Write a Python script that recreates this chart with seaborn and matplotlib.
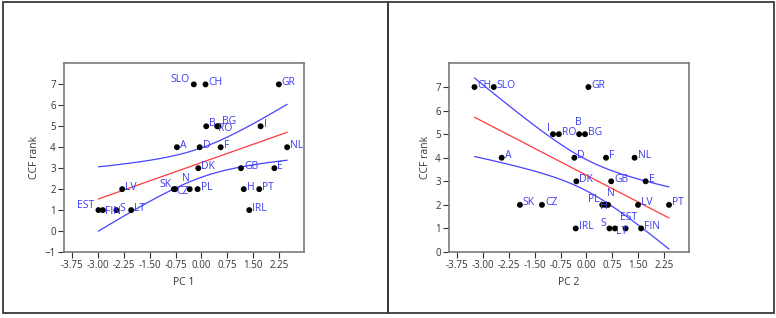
import numpy as np
import pandas as pd
import seaborn as sns
from matplotlib import pyplot as plt
from matplotlib.patches import Rectangle

# Country codes and CCF rank (shared by both panels)
countries = ['SLO', 'CH', 'GR', 'B', 'BG', 'RO', 'I', 'A', 'D', 'F', 'NL', 'DK', 'GB',
             'E', 'SK', 'CZ', 'N', 'PL', 'H', 'PT', 'LV', 'EST', 'FIN', 'S', 'LT', 'IRL']
ccf_rank = [7, 7, 7, 5, 5, 5, 5, 4, 4, 4, 4, 3, 3,
            3, 2, 2, 2, 2, 2, 2, 2, 1, 1, 1, 1, 1]
# principal component scores
pc1 = [-0.22, 0.12, 2.25, 0.14, 0.50, 0.46, 1.72, -0.71, -0.05, 0.56, 2.49, -0.09, 1.15,
       2.12, -0.80, -0.76, -0.34, -0.11, 1.23, 1.68, -2.30, -2.99, -2.86, -2.47, -2.04, 1.39]
pc2 = [-2.69, -3.25, 0.06, -0.21, -0.04, -0.80, -0.97, -2.46, -0.35, 0.57, 1.40, -0.29, 0.72,
       1.72, -1.93, -1.29, 0.63, 0.46, 0.55, 2.40, 1.50, 1.14, 1.59, 0.67, 0.83, -0.31]

x_ticks = [-3.75, -3.00, -2.25, -1.50, -0.75, 0.00, 0.75, 1.50, 2.25]

# label placement (pixels offset, horizontal alignment); default is right of the dot
DEFAULT_OFF = (3, 2, 'left')
offsets_pc1 = {'SLO': (-4, 5, 'right'), 'BG': (3, 5, 'left'), 'RO': (1, -2, 'left'),
               'EST': (-4, 5, 'right'), 'FIN': (2, -1, 'left'), 'SK': (-2, 5, 'right'),
               'CZ': (1, -2, 'left'), 'N': (-4, 11, 'center'), 'B': (3, 3, 'left')}
offsets_pc2 = {'I': (-3, 6, 'right'), 'B': (-1, 12, 'center'), 'PL': (-3, 5, 'right'),
               'N': (3, 11, 'center'), 'H': (-2, -2, 'center'), 'S': (-3, 5, 'right'),
               'LT': (1, -3, 'left'), 'EST': (3, 11, 'center')}

df = pd.DataFrame({'country': countries, 'rank': ccf_rank, 'PC 1': pc1, 'PC 2': pc2})

LABEL_BLUE = '#3a3af5'
LINE_BLUE = '#4444ff'
LINE_RED = '#ff3b3b'
T_CRIT = 2.064  # t(0.975, df=24)

sns.set_theme(style='ticks')
plt.rcParams['font.family'] = ['Open Sans', 'DejaVu Sans']

fig = plt.figure(figsize=(7.76, 3.18), dpi=100)
W, H = 776, 318


def fit_bands(x, y):
    x = np.asarray(x, float)
    y = np.asarray(y, float)
    n = len(x)
    b, a = np.polyfit(x, y, 1)
    resid = y - (a + b * x)
    s = np.sqrt((resid ** 2).sum() / (n - 2))
    sxx = ((x - x.mean()) ** 2).sum()
    xs = np.linspace(x.min(), x.max(), 100)
    yhat = a + b * xs
    half = T_CRIT * s * np.sqrt(1 / n + (xs - x.mean()) ** 2 / sxx)
    return pd.DataFrame({'x': xs, 'fit': yhat, 'lo': yhat - half, 'hi': yhat + half})


def draw_panel(left_px, col, ylim, offsets):
    ax = fig.add_axes([left_px / W, (H - 252) / H, 240 / W, 189 / H])
    bands = fit_bands(df[col], df['rank'])
    sns.lineplot(data=bands, x='x', y='fit', color=LINE_RED, lw=0.9, ax=ax)
    sns.lineplot(data=bands, x='x', y='lo', color=LINE_BLUE, lw=0.9, ax=ax)
    sns.lineplot(data=bands, x='x', y='hi', color=LINE_BLUE, lw=0.9, ax=ax)
    sns.scatterplot(data=df, x=col, y='rank', color='black', s=18, edgecolor='none',
                    zorder=3, ax=ax)
    for _, row in df.iterrows():
        dx, dy, ha = offsets.get(row['country'], DEFAULT_OFF)
        ax.annotate(row['country'], (row[col], row['rank']), xytext=(dx, dy),
                    textcoords='offset pixels', ha=ha, va='center',
                    color=LABEL_BLUE, fontsize=7.5, zorder=4)
    ax.set_xlim(-3.99, 2.98)
    ax.set_ylim(*ylim)
    ax.set_xticks(x_ticks)
    ax.set_xticklabels(['%.2f' % t for t in x_ticks])
    ax.set_yticks(range(int(ylim[0]), 8))
    ax.set_xlabel(col, fontsize=7.5, color='#333333', labelpad=4)
    ax.set_ylabel('CCF rank', fontsize=7.5, color='#333333', labelpad=3)
    ax.tick_params(labelsize=7, colors='#333333', length=4, width=0.8, pad=2)
    for sp in ax.spines.values():
        sp.set_visible(True)
        sp.set_color('#7a7a7a')
        sp.set_linewidth(1.2)
    return ax


draw_panel(64, 'PC 1', (-1, 8.02), offsets_pc1)
draw_panel(449, 'PC 2', (0, 8.02), offsets_pc2)

# outer panel frames
for x0, x1 in [(3, 388), (388, 774)]:
    fig.add_artist(Rectangle((x0 / W, (H - 313) / H), (x1 - x0) / W, 311 / H,
                             transform=fig.transFigure, fill=False,
                             edgecolor='#3a3a3a', lw=1.3))

fig.savefig('out.png', dpi=100)
